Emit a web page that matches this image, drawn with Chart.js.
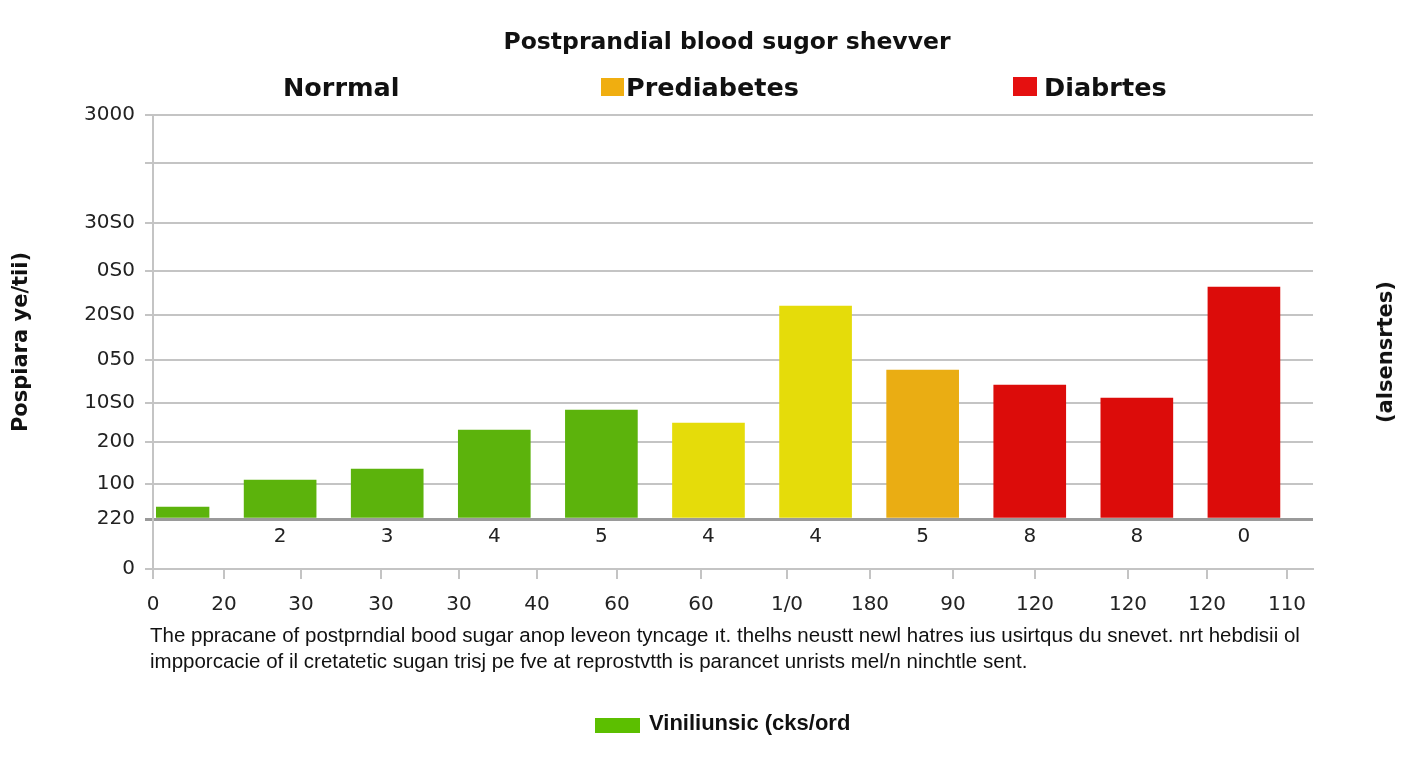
<!DOCTYPE html>
<html>
<head>
<meta charset="utf-8">
<script src="https://cdn.jsdelivr.net/npm/chart.js@4.4.1/dist/chart.umd.min.js"></script>
<style>
  body { margin: 0; background: #fff; }
  #wrap { position: relative; width: 1408px; height: 768px; overflow: hidden; }
  #chart { position: absolute; left: 0; top: 0; }
  .txt { position: absolute; color: #111; white-space: nowrap; }
  .title { left: 0; width: 1454px; top: 27px; text-align: center; font: bold 23.5px/28px "DejaVu Sans"; }
  .leg { top: 72px; font: bold 25.5px/30px "DejaVu Sans"; }
  .box { position: absolute; }
  .caption { left: 150px; top: 622px; font: 20.5px/26px "Liberation Sans"; }
  .foot { left: 649px; top: 709px; font: bold 22px/28px "Liberation Sans"; }
  .rtitle { left: 1385px; top: 352px; font: bold 21px/26px "DejaVu Sans";
            transform: translate(-50%, -50%) rotate(-90deg); }
</style>
</head>
<body>
<div id="wrap">
  <canvas id="chart" width="1408" height="768"></canvas>
  <div class="txt title">Postprandial blood sugor shevver</div>

  <div class="txt leg" style="left:283px">Norrmal</div>
  <div class="box" style="left:601px;top:78px;width:23px;height:18px;background:#f0ae10"></div>
  <div class="txt leg" style="left:626px">Prediabetes</div>
  <div class="box" style="left:1013px;top:77px;width:24px;height:19px;background:#e51010"></div>
  <div class="txt leg" style="left:1044px">Diabrtes</div>

  <div class="txt rtitle">(alsensrtes)</div>

  <div class="txt caption">The ppracane of postprndial bood sugar anop leveon tyncage ıt. thelhs neustt newl hatres ius usirtqus du snevet. nrt hebdisii ol<br>impporcacie of il cretatetic sugan trisj pe fve at reprostvtth is parancet unrists mel/n ninchtle sent.</div>

  <div class="box" style="left:595px;top:718px;width:45px;height:15px;background:#5cbf00"></div>
  <div class="txt foot">Viniliunsic (cks/ord</div>
</div>

<script>
// bars, left to right
const barLabels = ['', '2', '3', '4', '5', '4', '4', '5', '8', '8', '0'];
const barValues = [12, 39, 50, 89, 109, 96, 213, 149, 134, 121, 232];
const barColors = ['#5cb30c', '#5cb30c', '#5cb30c', '#5cb30c', '#5cb30c',
                   '#e5dc0a', '#e5dc0a', '#eaad13', '#dc0c0a', '#dc0c0a', '#dc0c0a'];

// left axis, bottom to top (the 220 line is the bar baseline)
const yTickValues = [-50, 0, 35, 77, 116, 159, 204, 248, 296, 356, 404];
const yTickLabels = ['0', '220', '100', '200', '10S0', '050', '20S0', '0S0', '30S0', '', '3000'];

// lower axis
const bottomTickValues = [0, 71, 148, 228, 306, 384, 464, 548, 634, 717, 800, 882, 975, 1054, 1134];
const bottomTickLabels = ['0', '20', '30', '30', '30', '40', '60', '60', '1/0', '180', '90', '120', '120', '120', '110'];

Chart.defaults.font.family = 'DejaVu Sans';
Chart.defaults.color = '#222';

const ctx = document.getElementById('chart').getContext('2d');

const myChart = new Chart(ctx, {
    type: 'bar',
    data: {
        datasets: [{
            data: barValues.map((v, i) => ({ x: i, y: v })),
            backgroundColor: barColors,
            barThickness: 72,
            clip: { left: -3, top: 0, right: 0, bottom: 0 }
        }]
    },
    options: {
        responsive: false,
        animation: false,
        events: [],
        layout: { padding: { left: 0, right: 95, top: 115, bottom: 139 } },
        plugins: { legend: { display: false }, tooltip: { enabled: false } },
        scales: {
            x: {
                type: 'linear',
                position: { y: 0 },
                offset: false,
                min: -0.187,
                max: 10.645,
                grid: { display: false, drawTicks: false, offset: false },
                border: { display: false },
                afterBuildTicks: s => { s.ticks = barLabels.map((_, i) => ({ value: i })); },
                ticks: {
                    font: { size: 20 },
                    padding: 6,
                    maxRotation: 0,
                    autoSkip: false,
                    callback: (v, i) => barLabels[i]
                }
            },
            x2: {
                type: 'linear',
                axis: 'x',
                position: 'bottom',
                offset: false,
                min: 0,
                max: 1160,
                afterFit: s => { s.height = 60; },
                grid: { drawOnChartArea: false, offset: false, color: '#c4c4c4', lineWidth: 2, tickLength: 10 },
                border: { color: '#c4c4c4', width: 2 },
                afterBuildTicks: s => { s.ticks = bottomTickValues.map(v => ({ value: v })); },
                ticks: {
                    font: { size: 20 },
                    padding: 14,
                    maxRotation: 0,
                    autoSkip: false,
                    callback: (v, i) => bottomTickLabels[i]
                }
            },
            y: {
                type: 'linear',
                position: 'left',
                min: -50,
                max: 404,
                afterFit: s => { s.width = 153; },
                afterBuildTicks: s => { s.ticks = yTickValues.map(v => ({ value: v })); },
                grid: {
                    color: c => (c.tick && c.tick.value === 0) ? '#9a9a9a' : '#c4c4c4',
                    lineWidth: c => (c.tick && c.tick.value === 0) ? 3 : 2,
                    tickLength: 8
                },
                border: { color: '#c4c4c4', width: 2 },
                ticks: {
                    font: { size: 20 },
                    padding: 10,
                    autoSkip: false,
                    callback: (v, i) => yTickLabels[i]
                },
                title: {
                    display: true,
                    text: 'Pospiara ye/tii)',
                    color: '#111',
                    font: { weight: 'bold', size: 21 },
                    padding: { top: 9, bottom: 0 }
                }
            }
        }
    }
});
</script>
</body>
</html>
